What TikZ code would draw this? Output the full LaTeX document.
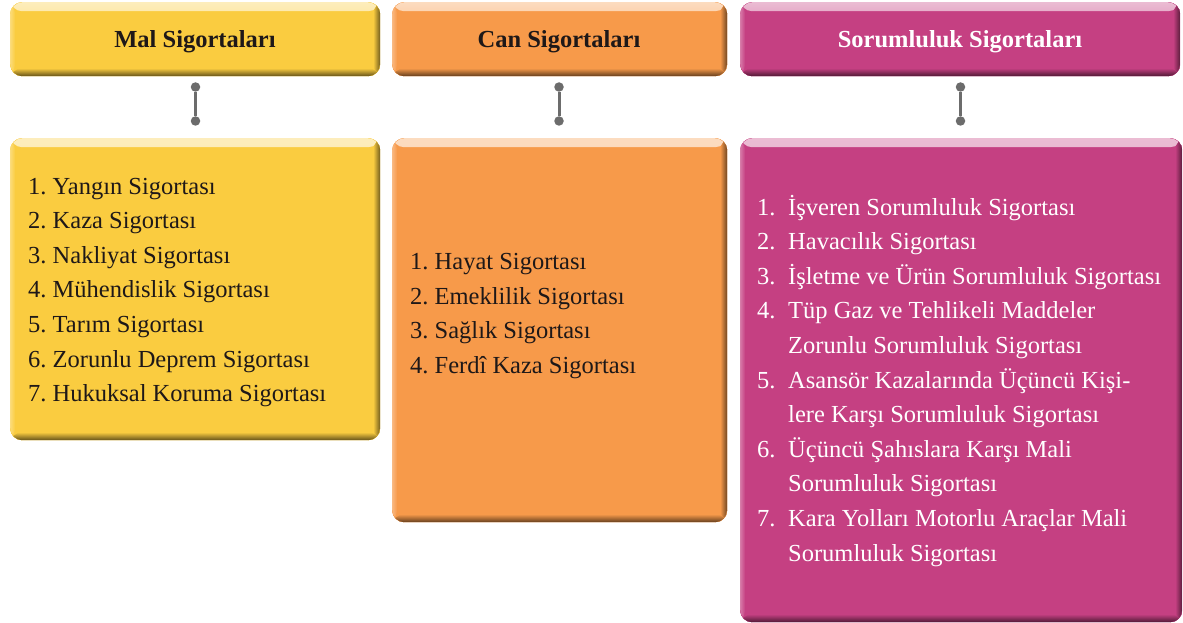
\documentclass[tikz,border=0pt]{standalone}
\usepackage{fontspec}
\setmainfont{Liberation Serif}
\definecolor{malc}{RGB}{250,204,64}
\definecolor{canc}{RGB}{247,154,74}
\definecolor{sorc}{RGB}{197,64,130}
\definecolor{txt}{RGB}{30,24,24}
\definecolor{conc}{RGB}{108,108,108}
\newcommand{\normsp}{\spaceskip=0pt\xspaceskip=0pt\frenchspacing}
\begin{document}
\begin{tikzpicture}[x=1pt,y=-1pt,
  bev/.style={rounded corners=12pt, fill=#1, inner sep=0pt, anchor=north west,
    path picture={
      \fill[top color=#1!35!white, bottom color=#1] (path picture bounding box.north west) rectangle ([yshift=-9pt]path picture bounding box.north east);
      \fill[left color=#1!70!white, right color=#1] (path picture bounding box.north west) rectangle ([xshift=5pt]path picture bounding box.south west);
      \fill[left color=#1, right color=#1!45!black] ([xshift=-7pt]path picture bounding box.north east) rectangle (path picture bounding box.south east);
      \fill[top color=#1, bottom color=#1!40!black] ([yshift=8pt]path picture bounding box.south west) rectangle (path picture bounding box.south east);
    }},
  head/.style={font=\fontsize{24.5}{30}\selectfont\bfseries, anchor=base, inner sep=0pt},
  lst/.style={font=\fontsize{24.5}{34.6}\selectfont, anchor=base west, inner sep=0pt, align=left, text width=420pt},
  dot/.style={circle, fill=conc, minimum size=9.5pt, inner sep=0pt},
  conn/.style={draw=conc, line width=3pt}
]
\useasboundingbox (0,0) rectangle (1183,623);
% header boxes
\node[bev=malc, minimum width=370pt, minimum height=74pt] (malH) at (10,2) {};
\node[bev=canc, minimum width=335pt, minimum height=74pt] (canH) at (392,2) {};
\node[bev=sorc, minimum width=440pt, minimum height=74pt] (sorH) at (740,2) {};
\node[head, text=txt] (malT) at (195,48) {Mal Sigortaları};
\node[head, text=txt] (canT) at (559,48) {Can Sigortaları};
\node[head, text=white] (sorT) at (960,48) {Sorumluluk Sigortaları};
% lower boxes
\node[bev=malc, minimum width=370pt, minimum height=302pt] (malB) at (10,138) {};
\node[bev=canc, minimum width=335pt, minimum height=384pt] (canB) at (392,138) {};
\node[bev=sorc, minimum width=442pt, minimum height=484pt] (sorB) at (740,138) {};
% connectors
\node[dot] (d1a) at (195.5,87) {};
\node[dot] (d1b) at (195.5,121) {};
\node[dot] (d2a) at (559,87) {};
\node[dot] (d2b) at (559,121) {};
\node[dot] (d3a) at (960.5,87) {};
\node[dot] (d3b) at (960.5,121) {};
\draw[conn] (d1a) -- (d1b);
\draw[conn] (d2a) -- (d2b);
\draw[conn] (d3a) -- (d3b);
% lists
\node[lst, text=txt] (malL) at (28,194) {\normsp 1. Yangın Sigortası\\2. Kaza Sigortası\\3. Nakliyat Sigortası\\4. Mühendislik Sigortası\\5. Tarım Sigortası\\6. Zorunlu Deprem Sigortası\\7. Hukuksal Koruma Sigortası};
\node[lst, text=txt] (canL) at (410,269.5) {\normsp 1. Hayat Sigortası\\2. Emeklilik Sigortası\\3. Sağlık Sigortası\\4. Ferdî Kaza Sigortası};
\node[lst, text=white] (sorL) at (757,215) {\normsp\makebox[31pt][l]{1.}İşveren Sorumluluk Sigortası\\
\makebox[31pt][l]{2.}Havacılık Sigortası\\
\makebox[31pt][l]{3.}İşletme ve Ürün Sorumluluk Sigortası\\
\makebox[31pt][l]{4.}Tüp Gaz ve Tehlikeli Maddeler\\
\hspace*{31pt}Zorunlu Sorumluluk Sigortası\\
\makebox[31pt][l]{5.}Asansör Kazalarında Üçüncü Kişi-\\
\hspace*{31pt}lere Karşı Sorumluluk Sigortası\\
\makebox[31pt][l]{6.}Üçüncü Şahıslara Karşı Mali\\
\hspace*{31pt}Sorumluluk Sigortası\\
\makebox[31pt][l]{7.}Kara Yolları Motorlu Araçlar Mali\\
\hspace*{31pt}Sorumluluk Sigortası};
\end{tikzpicture}
\end{document}
